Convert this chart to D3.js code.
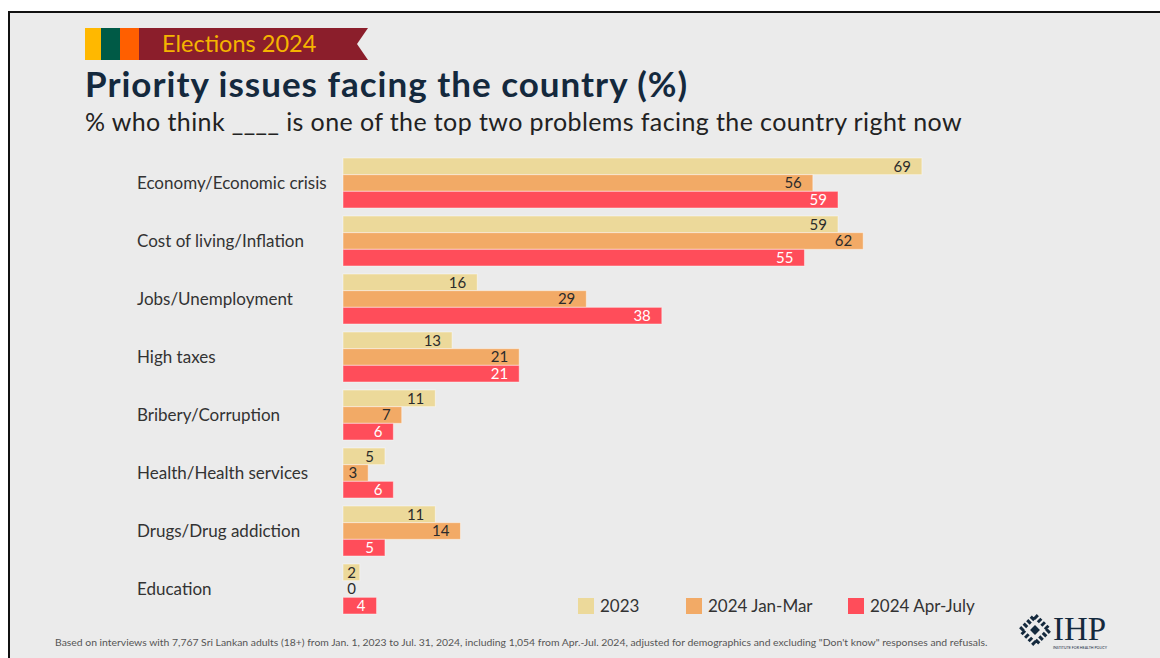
<!DOCTYPE html>
<html>
<head>
<meta charset="utf-8">
<script src="https://cdn.jsdelivr.net/npm/d3@7.9.0/dist/d3.min.js"></script>
<style>
  html, body { margin: 0; padding: 0; background: #fff; }
  svg { display: block; font-family: Lato, "Open Sans", sans-serif; }
</style>
</head>
<body>
<svg id="chart" width="1160" height="658"></svg>
<script>
// data
const categories = [
  'Economy/Economic crisis',
  'Cost of living/Inflation',
  'Jobs/Unemployment',
  'High taxes',
  'Bribery/Corruption',
  'Health/Health services',
  'Drugs/Drug addiction',
  'Education'
];
const seriesNames = ['2023', '2024 Jan-Mar', '2024 Apr-July'];
const values2023   = [69, 59, 16, 13, 11, 5, 11, 2];
const valuesJanMar = [56, 62, 29, 21, 7, 3, 14, 0];
const valuesAprJul = [59, 55, 38, 21, 6, 6, 5, 4];
const seriesValues = [values2023, valuesJanMar, valuesAprJul];

const colors = ['#ecd99a', '#f2aa66', '#ff4d5a'];
const labelColors = ['#2b2b2b', '#2b2b2b', '#ffffff'];

const svg = d3.select('#chart');

// frame
svg.append('rect')
  .attr('x', 9).attr('y', 12).attr('width', 1170).attr('height', 670)
  .attr('fill', '#ebebeb').attr('stroke', '#111').attr('stroke-width', 2);

// banner
const banner = svg.append('g');
banner.append('rect').attr('x', 85).attr('y', 28).attr('width', 16).attr('height', 32).attr('fill', '#ffb800');
banner.append('rect').attr('x', 101).attr('y', 28).attr('width', 19).attr('height', 32).attr('fill', '#005a46');
banner.append('rect').attr('x', 120).attr('y', 28).attr('width', 19).attr('height', 32).attr('fill', '#ff5f00');
banner.append('path')
  .attr('d', 'M139,28 L368,28 L357,44 L368,60 L139,60 Z')
  .attr('fill', '#8b1e2b');
banner.append('text')
  .attr('x', 162).attr('y', 52)
  .attr('font-size', 23.5).attr('fill', '#f5b400')
  .text('Elections 2024');

// title + subtitle
svg.append('text')
  .attr('x', 85).attr('y', 97)
  .attr('font-size', 35).attr('font-weight', 700).attr('fill', '#14293d')
  .attr('letter-spacing', 1)
  .text('Priority issues facing the country (%)');
svg.append('text')
  .attr('x', 85).attr('y', 131)
  .attr('font-size', 25).attr('fill', '#222')
  .attr('letter-spacing', 0.4)
  .text('% who think ____ is one of the top two problems facing the country right now');

// scales
const x = d3.scaleLinear().domain([0, 100]).range([343, 1182]);
const y = d3.scaleBand().domain(categories).range([158, 614]).paddingInner(0.138).paddingOuter(0);
const ySub = d3.scaleBand().domain(seriesNames).range([0, y.bandwidth()]);

const groups = svg.append('g').selectAll('g')
  .data(categories)
  .join('g')
  .attr('transform', d => `translate(0,${y(d)})`);

groups.append('text')
  .attr('x', 137)
  .attr('y', y.bandwidth() / 2)
  .attr('dy', '0.35em')
  .attr('font-size', 17).attr('fill', '#333')
  .text(d => d);

seriesNames.forEach((s, si) => {
  const vals = seriesValues[si];
  groups.append('rect')
    .attr('x', x(0))
    .attr('y', ySub(s))
    .attr('width', (d, i) => x(vals[i]) - x(0))
    .attr('height', ySub.bandwidth())
    .attr('fill', colors[si])
    .attr('stroke', 'rgba(255,255,255,0.45)')
    .attr('stroke-width', 1);

  groups.append('text')
    .attr('x', (d, i) => Math.max(x(vals[i]) - 11, x(0) + 13))
    .attr('y', ySub(s) + ySub.bandwidth() / 2)
    .attr('dy', '0.35em')
    .attr('text-anchor', 'end')
    .attr('font-size', 15)
    .attr('fill', (d, i) => vals[i] === 0 ? '#2b2b2b' : labelColors[si])
    .text((d, i) => vals[i]);
});

// legend
const legendX = [578, 686, 848];
const legend = svg.append('g').selectAll('g')
  .data(seriesNames)
  .join('g')
  .attr('transform', (d, i) => `translate(${legendX[i]},598)`);
legend.append('rect')
  .attr('width', 16).attr('height', 16)
  .attr('fill', (d, i) => colors[i]);
legend.append('text')
  .attr('x', 22).attr('y', 8).attr('dy', '0.36em')
  .attr('font-size', 17).attr('fill', '#333')
  .text(d => d);

// footnote
svg.append('text')
  .attr('x', 55).attr('y', 646)
  .attr('font-size', 10.4).attr('fill', '#555')
  .text('Based on interviews with 7,767 Sri Lankan adults (18+) from Jan. 1, 2023 to Jul. 31, 2024, including 1,054 from Apr.-Jul. 2024, adjusted for demographics and excluding "Don\'t know" responses and refusals.');

// IHP logo (approximate)
const logo = svg.append('g').attr('transform', 'translate(1035,630)');
logo.append('rect')
  .attr('x', -10).attr('y', -10).attr('width', 20).attr('height', 20)
  .attr('transform', 'rotate(45)')
  .attr('fill', 'none').attr('stroke', '#14293d').attr('stroke-width', 5)
  .attr('stroke-dasharray', '3,2');
logo.append('rect')
  .attr('x', -3.5).attr('y', -3.5).attr('width', 7).attr('height', 7)
  .attr('transform', 'rotate(45)')
  .attr('fill', '#14293d');
svg.append('text')
  .attr('x', 1053).attr('y', 640)
  .attr('font-family', '"Liberation Serif", "DejaVu Serif", serif')
  .attr('font-size', 33).attr('fill', '#14293d')
  .text('IHP');
svg.append('text')
  .attr('x', 1053).attr('y', 649)
  .attr('font-size', 4).attr('fill', '#14293d')
  .attr('textLength', 54).attr('lengthAdjust', 'spacingAndGlyphs')
  .text('INSTITUTE FOR HEALTH POLICY');
</script>
</body>
</html>
